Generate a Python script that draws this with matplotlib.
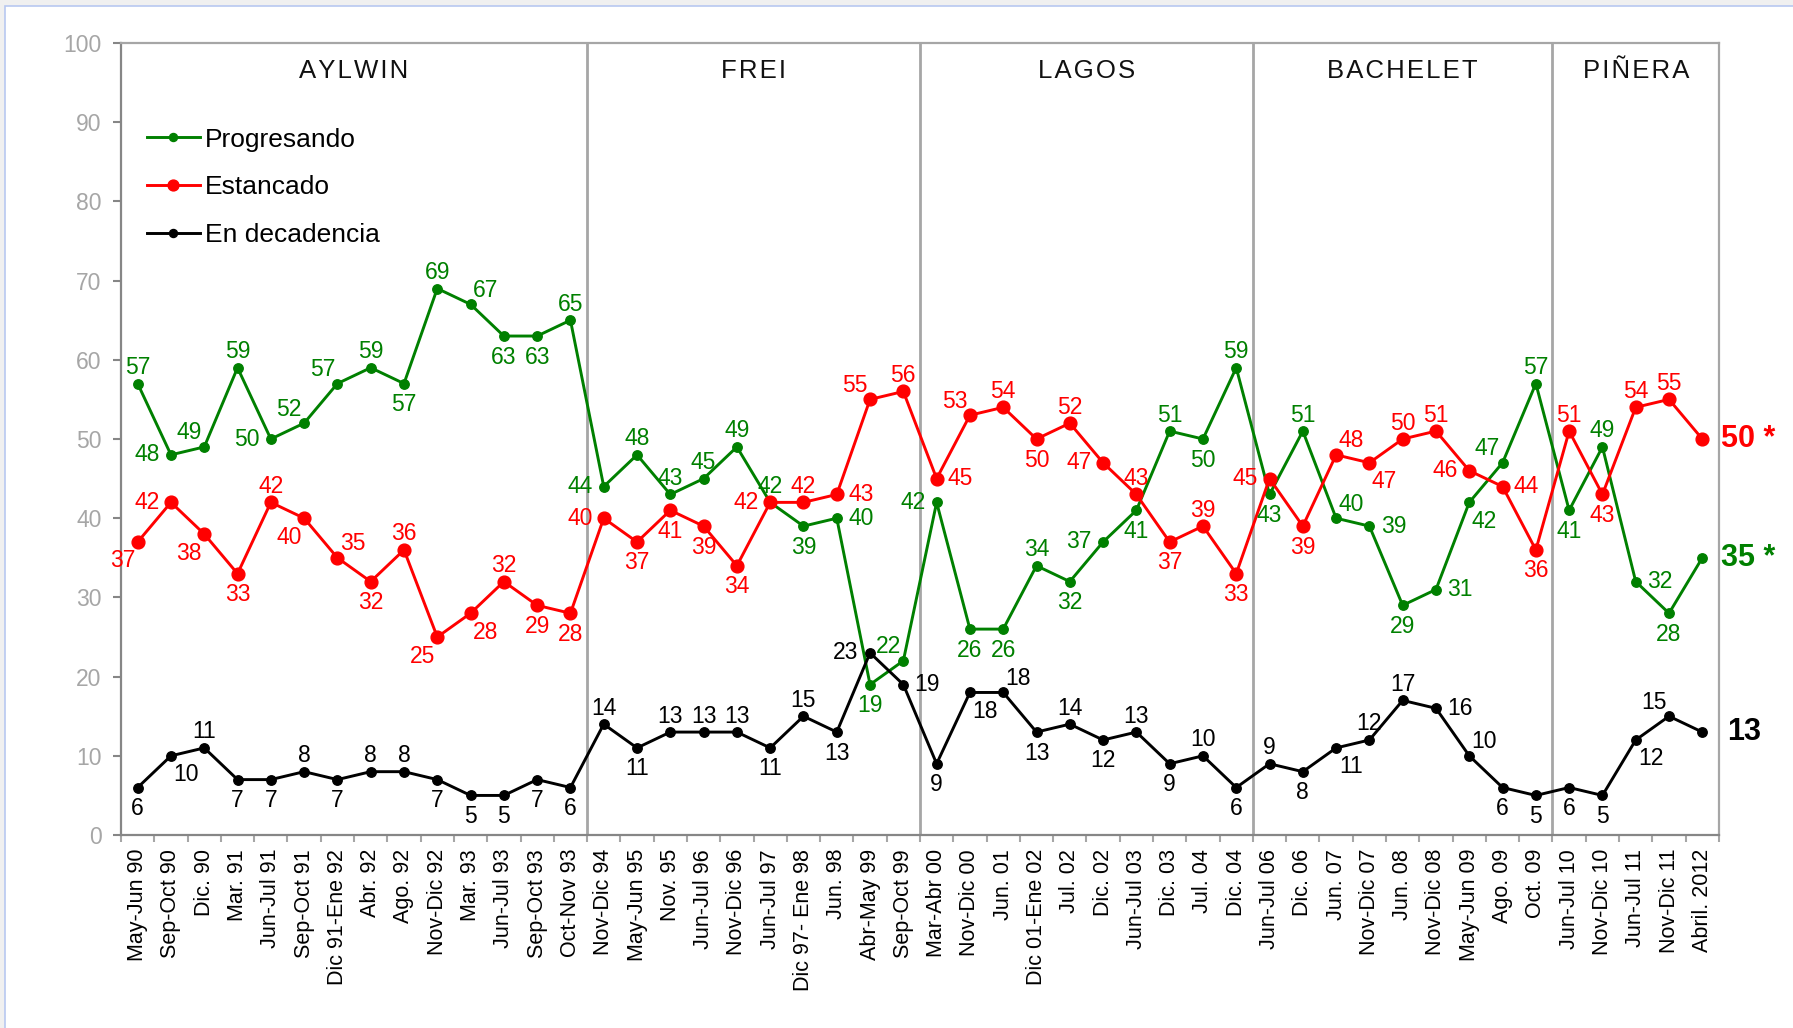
import matplotlib
matplotlib.use("Agg")
import numpy as np
import matplotlib.pyplot as plt
from matplotlib.patches import Rectangle

plt.rcParams["font.family"] = ["Liberation Sans", "DejaVu Sans"]

# ---- data ----
periods = [
    "May-Jun 90", "Sep-Oct 90", "Dic. 90", "Mar. 91", "Jun-Jul 91", "Sep-Oct 91",
    "Dic 91-Ene 92", "Abr. 92", "Ago. 92", "Nov-Dic 92", "Mar. 93", "Jun-Jul 93",
    "Sep-Oct 93", "Oct-Nov 93",
    "Nov-Dic 94", "May-Jun 95", "Nov. 95", "Jun-Jul 96", "Nov-Dic 96", "Jun-Jul 97",
    "Dic 97- Ene 98", "Jun. 98", "Abr-May 99", "Sep-Oct 99",
    "Mar-Abr 00", "Nov-Dic 00", "Jun. 01", "Dic 01-Ene 02", "Jul. 02", "Dic. 02",
    "Jun-Jul 03", "Dic. 03", "Jul. 04", "Dic. 04",
    "Jun-Jul 06", "Dic. 06", "Jun. 07", "Nov-Dic 07", "Jun. 08", "Nov-Dic 08",
    "May-Jun 09", "Ago. 09", "Oct. 09",
    "Jun-Jul 10", "Nov-Dic 10", "Jun-Jul 11", "Nov-Dic 11", "Abril. 2012",
]
eras = ["AYLWIN", "FREI", "LAGOS", "BACHELET", "PIÑERA"]
era_sizes = [14, 10, 10, 9, 5]

progresando = [57, 48, 49, 59, 50, 52, 57, 59, 57, 69, 67, 63, 63, 65,
               44, 48, 43, 45, 49, 42, 39, 40, 19, 22,
               42, 26, 26, 34, 32, 37, 41, 51, 50, 59,
               43, 51, 40, 39, 29, 31, 42, 47, 57,
               41, 49, 32, 28, 35]
estancado = [37, 42, 38, 33, 42, 40, 35, 32, 36, 25, 28, 32, 29, 28,
             40, 37, 41, 39, 34, 42, 42, 43, 55, 56,
             45, 53, 54, 50, 52, 47, 43, 37, 39, 33,
             45, 39, 48, 47, 50, 51, 46, 44, 36,
             51, 43, 54, 55, 50]
decadencia = [6, 10, 11, 7, 7, 8, 7, 8, 8, 7, 5, 5, 7, 6,
              14, 11, 13, 13, 13, 11, 15, 13, 23, 19,
              9, 18, 18, 13, 14, 12, 13, 9, 10, 6,
              9, 8, 11, 12, 17, 16, 10, 6, 5,
              6, 5, 12, 15, 13]

# where each value label sits relative to its point (last point gets the big label)
prog_pos = ["a", "l", "al", "a", "l", "al", "al", "a", "b", "a", "ar", "b", "b", "a",
            "l", "a", "a", "a", "a", "a", "b", "r", "b", "al",
            "l", "b", "b", "a", "b", "l", "b", "a", "b", "a",
            "b", "a", "ar", "r", "b", "r", "br", "al", "a",
            "b", "a", "r", "b", None]
est_pos = ["bl", "l", "bl", "b", "a", "bl", "ar", "b", "a", "bl", "br", "a", "b", "b",
           "l", "b", "b", "b", "b", "l", "a", "r", "al", "a",
           "r", "al", "a", "b", "a", "l", "a", "b", "a", "b",
           "l", "b", "ar", "br", "a", "a", "l", "r", "b",
           "a", "b", "a", "a", None]
dec_pos = ["b", "br", "a", "b", "b", "a", "b", "a", "a", "b", "b", "b", "b", "b",
           "a", "b", "a", "a", "a", "b", "a", "b", "l", "r",
           "b", "br", "ar", "b", "a", "b", "a", "b", "a", "b",
           "a", "b", "br", "a", "a", "r", "ar", "b", "b",
           "b", "b", "br", "al", None]

OFFSETS = {"a": (0, 16), "b": (0, -21), "l": (-24, 0), "r": (24, 0),
           "al": (-15, 14), "ar": (15, 14), "bl": (-15, -19), "br": (15, -19)}

GREEN = "#008000"
RED = "#ff0000"
BLACK = "#000000"
GRID_GRAY = "#a6a6a6"

fig = plt.figure(figsize=(17.93, 10.28), dpi=100)
# light window frame around the white chart area
fig.patches.append(Rectangle((0, 0), 1, 1, transform=fig.transFigure,
                             facecolor="#f0f0f0", edgecolor="none", zorder=-20))
fig.patches.append(Rectangle((5 / 1793, -0.01), 1.0, 1.01 - 6 / 1028,
                             transform=fig.transFigure, facecolor="white",
                             edgecolor="#b8c8f0", linewidth=1.2, zorder=-19))

ax = fig.add_axes([0.0675, 0.1877, 0.8912, 0.7705])
ax.set_facecolor("white")
x = np.arange(len(periods))

series = [
    ("Progresando", progresando, prog_pos, GREEN, 6.8),
    ("Estancado", estancado, est_pos, RED, 9.2),
    ("En decadencia", decadencia, dec_pos, BLACK, 6.8),
]
for name, vals, pos, color, ms in series:
    ax.plot(x, vals, color=color, linewidth=2.1, marker="o", markersize=ms,
            label=name, zorder=3)
    for xi, v, p in zip(x, vals, pos):
        if p is None:
            continue
        dx, dy = OFFSETS[p]
        ax.annotate(str(v), xy=(xi, v), xytext=(dx, dy), textcoords="offset pixels",
                    ha="center", va="center", fontsize=16.5, color=color, zorder=4)

# big final labels on the right
finals = [("50 *", estancado[-1], RED, 2), ("35 *", progresando[-1], GREEN, 2),
          ("13", decadencia[-1], BLACK, 8)]
for txt, v, color, dx in finals:
    ax.annotate(txt, xy=(len(periods) - 0.5, v), xytext=(dx, 0),
                textcoords="offset pixels", ha="left", va="center",
                fontsize=22, fontweight="bold", color=color, annotation_clip=False)

# era separators and titles
bounds = np.cumsum([0] + era_sizes) - 0.5
for b in bounds[1:-1]:
    ax.axvline(b, color=GRID_GRAY, linewidth=2.0, zorder=1)
for name, lo, hi in zip(eras, bounds[:-1], bounds[1:]):
    ax.text((lo + hi) / 2, 96.5, "\u200a".join(name), ha="center", va="center",
            fontsize=18.5, color="#111111")

ax.set_xlim(-0.5, len(periods) - 0.5)
ax.set_ylim(0, 100)
ax.set_yticks(np.arange(0, 101, 10))
ax.set_xticks(x)
ax.set_xticklabels(periods, rotation=90, fontsize=15.5)
ax.set_xticks(bounds[0] + np.arange(len(periods) + 1), minor=True)
ax.tick_params(axis="x", which="major", length=0, pad=10)
ax.tick_params(axis="x", which="minor", length=5, width=1.5, color=GRID_GRAY,
               direction="out")
ax.tick_params(axis="y", length=6, width=1.5, color="#868686", labelsize=16.5,
               labelcolor=GRID_GRAY, pad=8)

for side in ["left", "bottom"]:
    ax.spines[side].set_color("#868686")
    ax.spines[side].set_linewidth(1.6)
for side in ["top", "right"]:
    ax.spines[side].set_color(GRID_GRAY)
    ax.spines[side].set_linewidth(1.6)

ax.legend(loc="upper left", bbox_to_anchor=(0.0163, 0.893), frameon=False,
          fontsize=19, handlelength=2.0, handletextpad=0.2, labelspacing=0.9,
          borderpad=0, borderaxespad=0, numpoints=1, markerscale=0.85)

fig.savefig("out.png", dpi=100)
